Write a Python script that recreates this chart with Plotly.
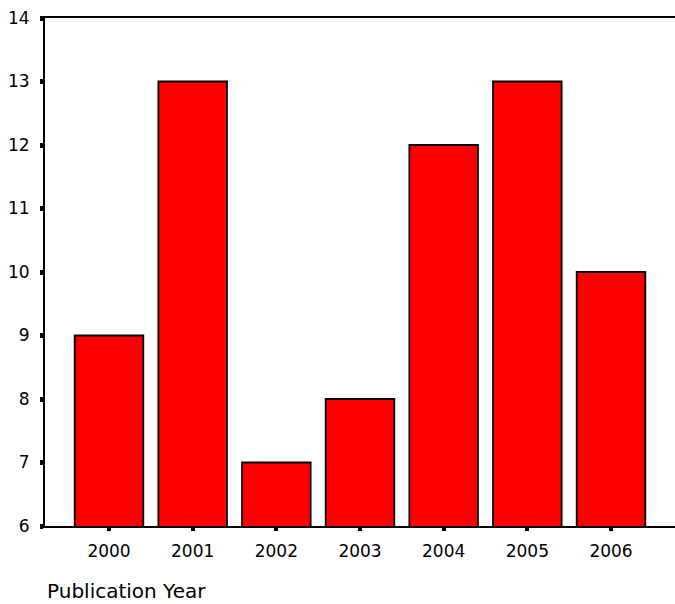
import plotly.graph_objects as go

years = ["2000", "2001", "2002", "2003", "2004", "2005", "2006"]
counts = [9, 13, 7, 8, 12, 13, 10]
y_ticks = [6, 7, 8, 9, 10, 11, 12, 13, 14]
x_title = "Publication Year"

W, H = 675, 604
ml, mr, mt, mb = 45, 0, 18, 78
FONT = "DejaVu Sans"

fig = go.Figure(
    go.Bar(
        x=years,
        y=counts,
        marker=dict(color="#ff0000", line=dict(color="black", width=1.8)),
        width=0.82,
    )
)

fig.update_layout(
    width=W,
    height=H,
    margin=dict(l=ml, r=mr, t=mt, b=mb),
    plot_bgcolor="white",
    paper_bgcolor="white",
    showlegend=False,
    font=dict(family=FONT, size=17, color="black"),
)

fig.update_xaxes(
    type="category",
    range=[-0.765, 6.765],
    showline=True,
    linecolor="black",
    linewidth=2,
    mirror=True,
    showgrid=False,
    ticks="outside",
    ticklen=3,
    tickwidth=4,
    tickcolor="black",
    tickfont=dict(family=FONT, size=17),
    ticklabelstandoff=6,
)

fig.update_yaxes(
    range=[6, 14],
    tickvals=y_ticks,
    showline=True,
    linecolor="black",
    linewidth=2,
    showgrid=False,
    zeroline=False,
    ticks="outside",
    ticklen=3,
    tickwidth=5,
    tickcolor="black",
    tickfont=dict(family=FONT, size=17),
    ticklabelstandoff=7,
)

plot_h = H - mt - mb
fig.add_annotation(
    text=x_title,
    xref="paper",
    yref="paper",
    x=1 / (W - ml - mr),
    y=-(591 - (H - mb)) / plot_h,
    xanchor="left",
    yanchor="middle",
    showarrow=False,
    borderpad=0,
    font=dict(family=FONT, size=20, color="black"),
)

fig.write_html(
    "out.html",
    config={"displayModeBar": False},
    post_script="document.body.style.margin='0';document.body.style.overflow='hidden';",
)
